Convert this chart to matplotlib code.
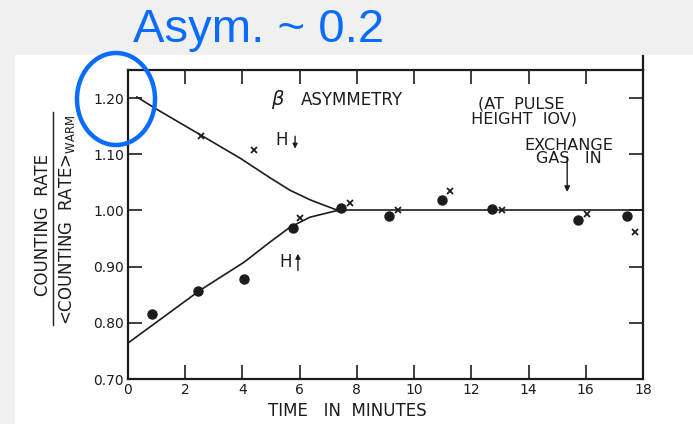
import matplotlib
matplotlib.use("Agg")
import matplotlib.pyplot as plt
from matplotlib.patches import Ellipse, Rectangle
from matplotlib.lines import Line2D

plt.rcParams['font.family'] = ['DejaVu Sans']

dots_t = [0.84, 2.45, 4.05, 5.77, 7.45, 9.13, 10.98, 12.73, 15.73, 17.45]
dots_y = [0.816, 0.857, 0.878, 0.969, 1.004, 0.990, 1.018, 1.002, 0.983, 0.990]

cross_t = [2.55, 4.41, 6.0, 7.76, 9.44, 11.26, 13.08, 16.05, 17.73]
cross_y = [1.132, 1.107, 0.986, 1.013, 1.001, 1.035, 1.001, 0.994, 0.962]

# hand drawn curves (H down / H up) and the warm level
down_t = [0.31, 0.94, 2.55, 3.92, 4.97, 5.66, 6.36, 6.82, 7.24, 7.6]
down_y = [1.202, 1.182, 1.134, 1.093, 1.058, 1.036, 1.019, 1.010, 1.002, 1.0]
up_t = [0.0, 2.52, 4.06, 4.97, 5.66, 6.36, 7.24, 7.6]
up_y = [0.764, 0.858, 0.908, 0.944, 0.970, 0.988, 0.999, 1.0]
warm_t = [7.6, 18.0]
warm_y = [1.0, 1.0]

xticks = list(range(0, 19, 2))
yticks = [0.70, 0.80, 0.90, 1.00, 1.10, 1.20]
ytick_labels = ['0.70', '0.80', '0.90', '1.00', '1.10', '1.20']

W, H = 693, 424
ink = '#1c1c1c'
blue = '#0a6cff'


def fx(px):
    return px / W


def fy(py):
    return 1 - py / H


fig = plt.figure(figsize=(W / 100, H / 100), dpi=100)
fig.patch.set_facecolor('#f0f0f0')
# white "paper" area of the scan
fig.add_artist(Rectangle((fx(15), 0), 1 - fx(15), fy(55), transform=fig.transFigure,
                         facecolor='white', edgecolor='none', zorder=0))

ax = fig.add_axes([fx(128), fy(379), fx(643) - fx(128), fy(70) - fy(379)])
ax.set_facecolor('white')

ax.plot(down_t, down_y, color=ink, lw=1.2)
ax.plot(up_t, up_y, color=ink, lw=1.2)
ax.plot(warm_t, warm_y, color=ink, lw=1.2)
ax.plot(dots_t, dots_y, 'o', color=ink, ms=6.5, zorder=3)
ax.plot(cross_t, cross_y, 'x', color=ink, ms=4, mew=1.3, zorder=3)

ax.set_xlim(0, 18)
ax.set_ylim(0.70, 1.25)
ax.set_xticks(xticks)
ax.set_yticks(yticks)
ax.set_yticklabels(ytick_labels)
ax.tick_params(direction='in', top=True, right=True, length=10, width=1.2,
               colors=ink, labelsize=10, pad=3)
for s in ax.spines.values():
    s.set_linewidth(1.6)
    s.set_color(ink)
ax.plot([1, 1], [1, 1.045], transform=ax.transAxes, clip_on=False, color=ink, lw=1.6)

# annotations inside the plot
ax.text(5.0, 1.197, r'$\beta$', fontsize=14, color=ink, ha='left', va='center')
ax.text(6.05, 1.197, 'ASYMMETRY', fontsize=12, color=ink, ha='left', va='center')
ax.text(13.75, 1.177, '(AT  PULSE\n HEIGHT  IOV)', fontsize=11.5, color=ink,
        ha='center', va='center', linespacing=1.0)
ax.text(15.4, 1.104, 'EXCHANGE\nGAS   IN', fontsize=11.5, color=ink,
        ha='center', va='center', linespacing=0.9)
ax.annotate('', xy=(15.35, 1.028), xytext=(15.35, 1.100),
            arrowprops=dict(arrowstyle='-|>', color=ink, lw=1.0, mutation_scale=8))
ax.text(5.15, 1.125, 'H', fontsize=12, color=ink, ha='left', va='center')
ax.annotate('', xy=(5.84, 1.105), xytext=(5.84, 1.137),
            arrowprops=dict(arrowstyle='-|>', color=ink, lw=1.0, mutation_scale=7))
ax.text(5.3, 0.908, 'H', fontsize=12, color=ink, ha='left', va='center')
ax.annotate('', xy=(5.94, 0.928), xytext=(5.94, 0.888),
            arrowprops=dict(arrowstyle='-|>', color=ink, lw=1.0, mutation_scale=7))

ax.set_xlabel('TIME   IN  MINUTES', fontsize=12, color=ink, labelpad=5)
ax.xaxis.set_label_coords(0.425, -0.075)

# y label as a hand-set fraction
fig.text(fx(43), fy(225), 'COUNTING  RATE', rotation=90, fontsize=12, color=ink,
         ha='center', va='center')
fig.add_artist(Line2D([fx(53), fx(53)], [fy(112), fy(325)], color=ink, lw=1.0,
                      transform=fig.transFigure))
fig.text(fx(67), fy(220), r'<COUNTING  RATE>$_{\mathrm{WARM}}$', rotation=90, fontsize=12,
         color=ink, ha='center', va='center')

# overlay: title and highlight ellipse
fig.text(fx(259), fy(42), 'Asym. ~ 0.2', fontsize=34, color=blue,
         family='Liberation Sans', ha='center', va='baseline')
fig.add_artist(Ellipse((fx(116), fy(99)), fx(78), 92 / H, transform=fig.transFigure,
                       facecolor='none', edgecolor=blue, lw=3.2, zorder=10))

fig.savefig('out.png', dpi=100)
